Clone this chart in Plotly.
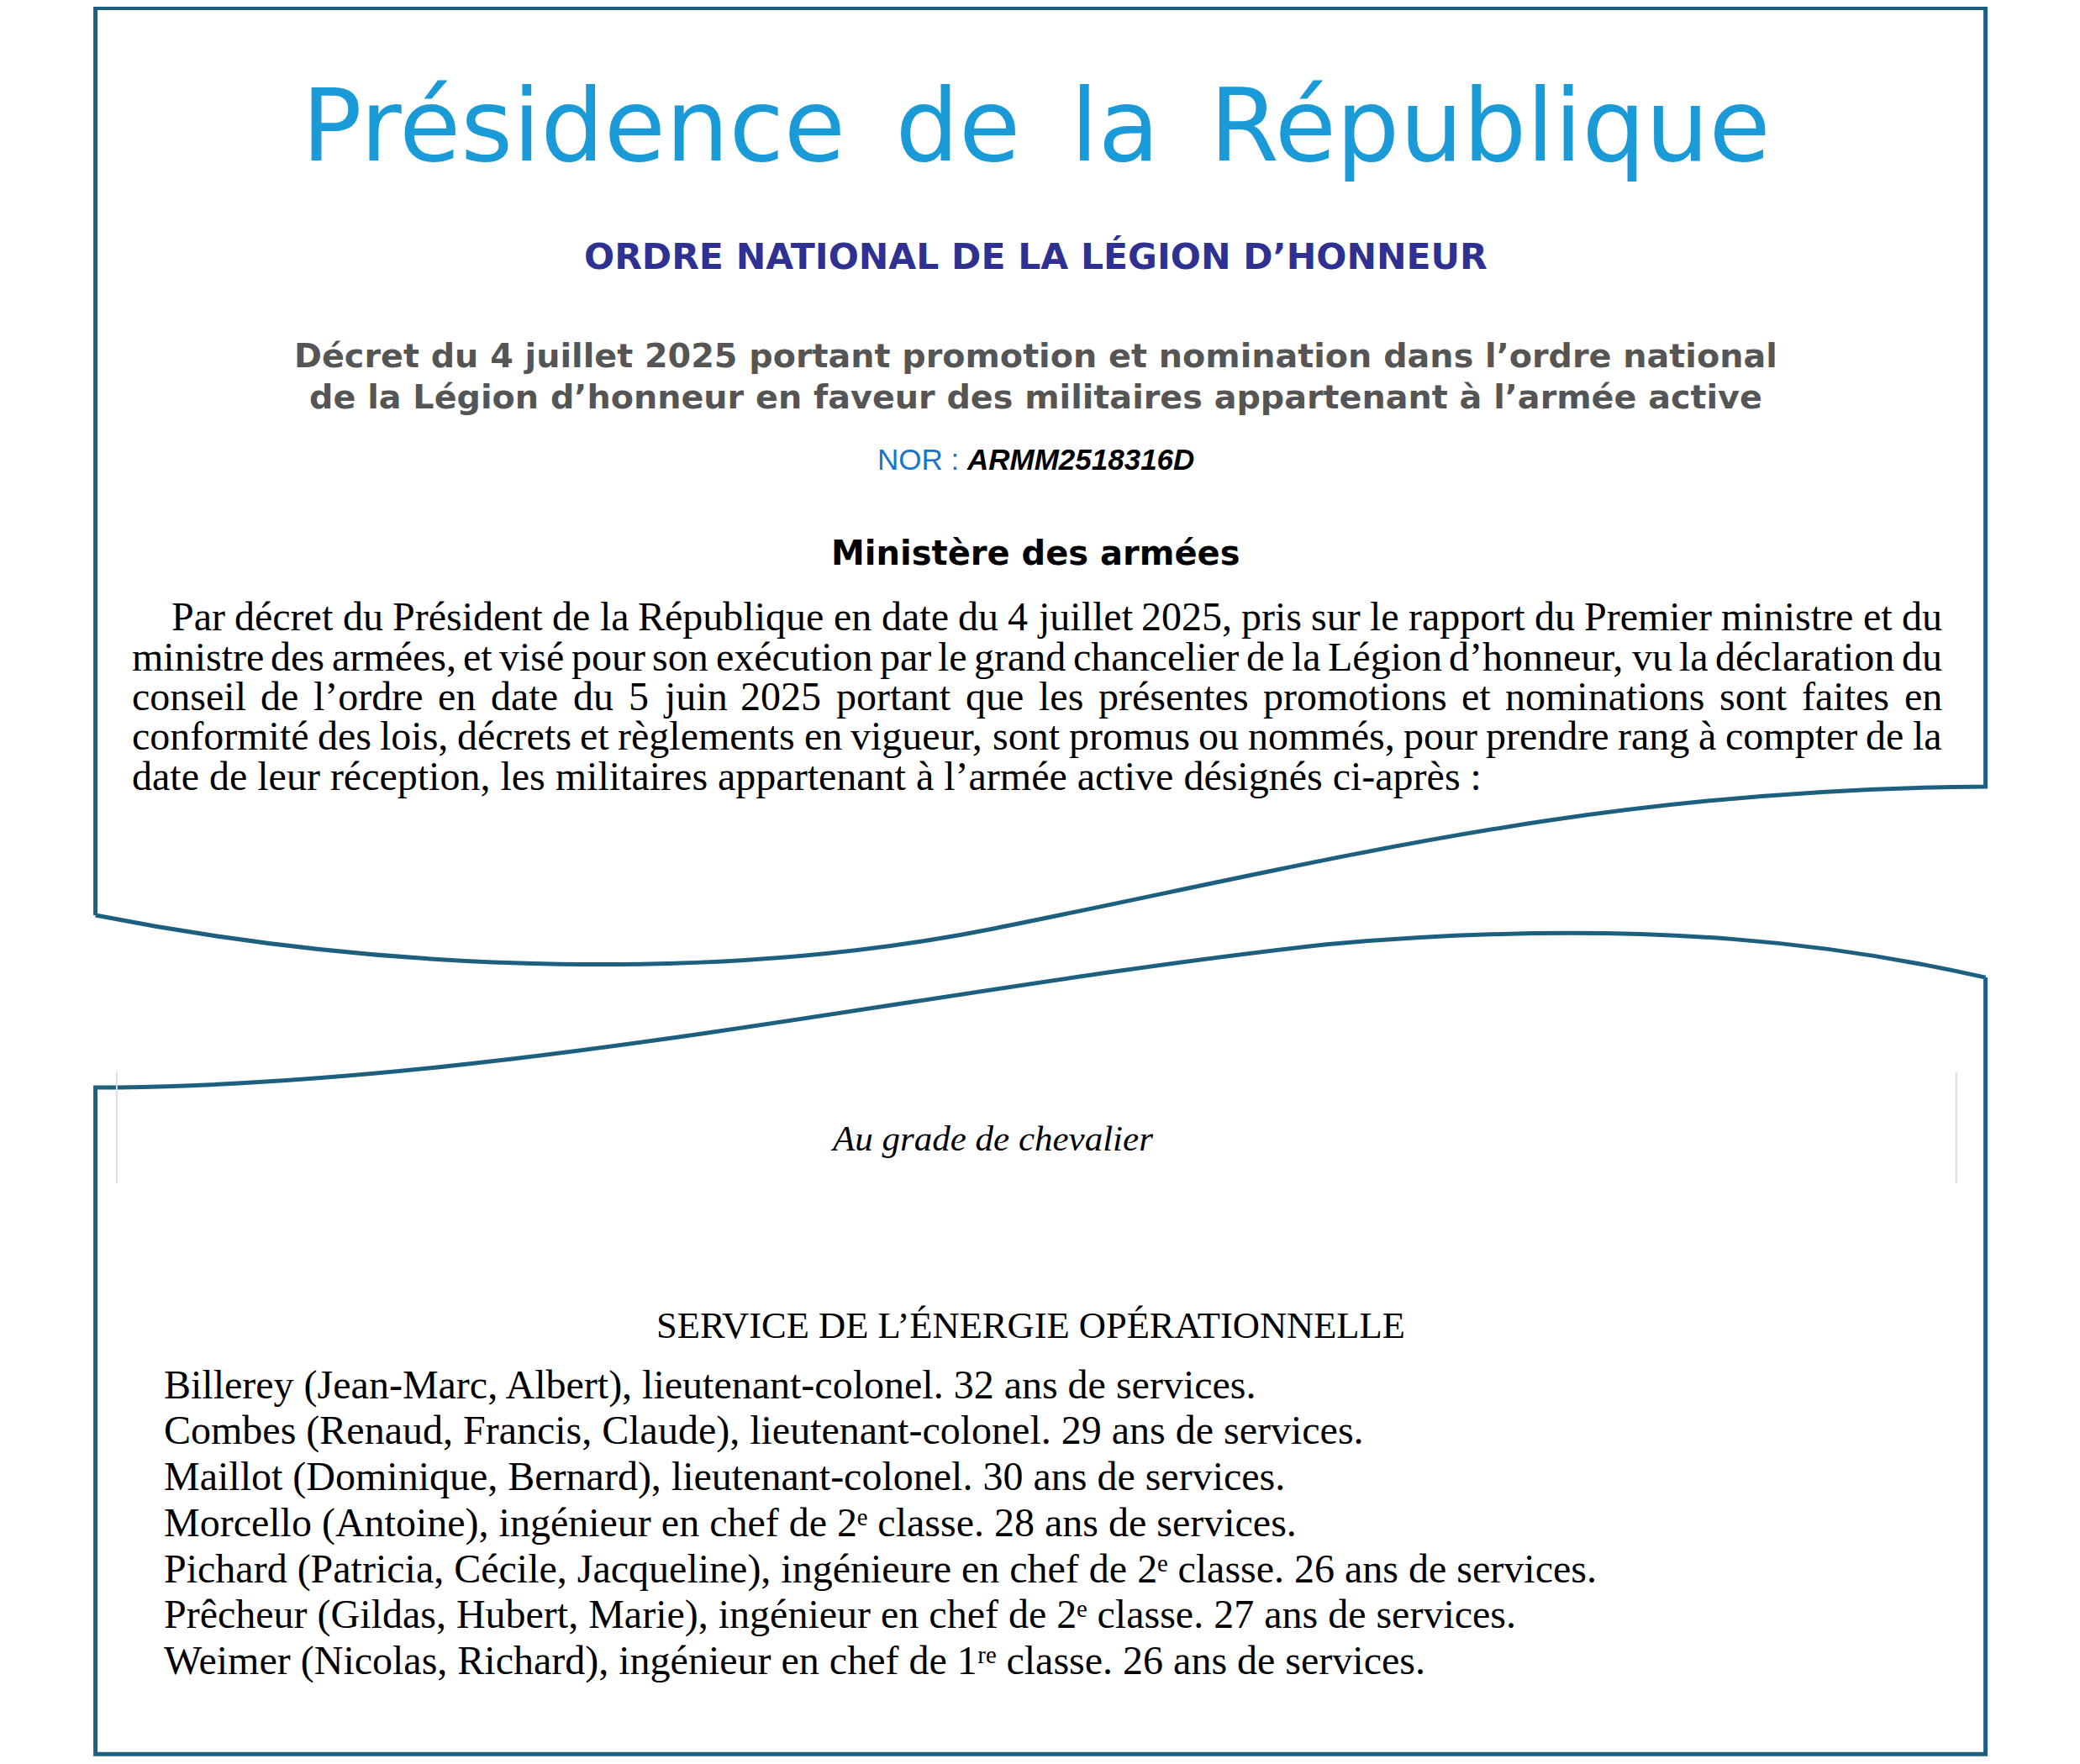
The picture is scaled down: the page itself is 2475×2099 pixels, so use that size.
import plotly.graph_objects as go

W, H = 2475, 2099
S = 2099 / 1330
OFF = 8  # page body margin

title = "Présidence de la République"
subtitle = "ORDRE NATIONAL DE LA LÉGION D’HONNEUR"
decret_lines = ["Décret du 4 juillet 2025 portant promotion et nomination dans l’ordre national",
                "de la Légion d’honneur en faveur des militaires appartenant à l’armée active"]
nor_label = "NOR :"
nor_code = "ARMM2518316D"
ministry = "Ministère des armées"
para_lines = [
    "Par décret du Président de la République en date du 4 juillet 2025, pris sur le rapport du Premier ministre et du",
    "ministre des armées, et visé pour son exécution par le grand chancelier de la Légion d’honneur, vu la déclaration du",
    "conseil de l’ordre en date du 5 juin 2025 portant que les présentes promotions et nominations sont faites en",
    "conformité des lois, décrets et règlements en vigueur, sont promus ou nommés, pour prendre rang à compter de la",
    "date de leur réception, les militaires appartenant à l’armée active désignés ci-après :",
]
grade = "Au grade de chevalier"
service = "SERVICE DE L’ÉNERGIE OPÉRATIONNELLE"
names = [
    "Billerey (Jean-Marc, Albert), lieutenant-colonel. 32 ans de services.",
    "Combes (Renaud, Francis, Claude), lieutenant-colonel. 29 ans de services.",
    "Maillot (Dominique, Bernard), lieutenant-colonel. 30 ans de services.",
    "Morcello (Antoine), ingénieur en chef de 2ᵉ classe. 28 ans de services.",
    "Pichard (Patricia, Cécile, Jacqueline), ingénieure en chef de 2ᵉ classe. 26 ans de services.",
    "Prêcheur (Gildas, Hubert, Marie), ingénieur en chef de 2ᵉ classe. 27 ans de services.",
    "Weimer (Nicolas, Richard), ingénieur en chef de 1ʳᵉ classe. 26 ans de services.",
]

# approximate Times widths (per 1000 em) for justification
TW = dict(zip("abcdefghijklmnopqrstuvwxyz",
              [444,500,444,500,444,333,500,500,278,278,500,278,778,500,500,500,500,333,389,278,500,500,722,500,500,444]))
TW.update(zip("ABCDEFGHIJKLMNOPQRSTUVWXYZ",
              [722,667,667,722,611,556,722,722,333,389,722,611,889,722,722,556,722,667,556,611,722,722,944,722,722,611]))
TW.update({c: 500 for c in "0123456789"})
TW.update({",": 250, ".": 250, ":": 278, "’": 333, "-": 333, "(": 333, ")": 333, " ": 250})
ACC = {"é": "e", "è": "e", "ê": "e", "à": "a", "â": "a", "ô": "o", "ç": "c", "É": "E"}
def wwidth(w, size):
    return sum(TW.get(ACC.get(c, c), 500) for c in w) * size / 1000

def p(x, y):
    return f"{x*S:.1f},{y*S:.1f}"

top_path = (f"M {p(72,690)} L {p(72,6)} L {p(1497,6)} L {p(1497,593)} "
            f"C {p(1200,595)} {p(1000,650)} {p(750,700)} "
            f"C {p(550,740)} {p(300,735)} {p(72,690)}")
bot_path = (f"M {p(1497,737)} L {p(1497,1322.5)} L {p(72,1322.5)} L {p(72,820)} L {p(90,820)} "
            f"C {p(400,815)} {p(700,745)} {p(1000,712)} "
            f"C {p(1250,690)} {p(1400,715)} {p(1497,737)}")

line_col = "#1d5f7e"
fig = go.Figure()
fig.add_trace(go.Scatter(x=[W/2], y=[H/2], mode="markers", marker=dict(opacity=0), hoverinfo="skip"))
shapes = [
    dict(type="path", path=top_path, line=dict(color=line_col, width=5), xref="x", yref="y"),
    dict(type="path", path=bot_path, line=dict(color=line_col, width=5), xref="x", yref="y"),
    dict(type="line", x0=88*S, x1=88*S, y0=808*S, y1=892*S, line=dict(color="#dddddd", width=2), xref="x", yref="y"),
    dict(type="line", x0=1475*S, x1=1475*S, y0=808*S, y1=892*S, line=dict(color="#dddddd", width=2), xref="x", yref="y"),
]
ann = []
def T(text, x, y, size, color="black", family="Liberation Sans", xanchor="center", sx=S):
    ann.append(dict(text=text, x=x*sx, y=y*S, xref="x", yref="y", showarrow=False,
                    font=dict(size=size, color=color, family=family), xanchor=xanchor, yanchor="middle"))

T(title.replace(" ", "\u2002"), 781, 95, 119, "#1b9ad8", "DejaVu Sans")
T(f"<b>{subtitle}</b>", 781, 193, 42.5, "#2e3192", "DejaVu Sans")
for i, l in enumerate(decret_lines):
    T(f"<b>{l}</b>", 781, 268 + 31*i, 39.7, "#555555", "DejaVu Sans")
T(f"<span style='color:#1a73c8'>{nor_label}</span> <i><b>{nor_code}</b></i>", 781, 346, 35, "black", "Liberation Sans")
T(f"<b>{ministry}</b>", 781, 417, 40, "black", "DejaVu Sans")

PS = 48
right = 1463 * S
for i, l in enumerate(para_lines):
    x0 = (128 if i == 0 else 98) * S
    y = 465 + 30*i
    if i < len(para_lines) - 1:
        words = l.split(" ")
        widths = [wwidth(w, PS) for w in words]
        gap = (right - x0 - sum(widths)) / (len(words) - 1)
        x = x0
        for w, wd in zip(words, widths):
            T(w, x, y, PS, "black", "Liberation Serif", "left", sx=1)
            x += wd + gap
    else:
        T(l, x0, y, PS, "black", "Liberation Serif", "left", sx=1)
T(f"<i>{grade}</i>", 748, 858, 43, "black", "Liberation Serif")
T(service, 777, 999, 44.5, "black", "Liberation Serif")
for i, l in enumerate(names):
    T(l, 122, 1044 + 34.7*i, 48, "black", "Liberation Serif", "left")

fig.update_layout(width=W - 2*OFF, height=H - 2*OFF, margin=dict(l=0, r=0, t=0, b=0),
                  paper_bgcolor="white", plot_bgcolor="white", showlegend=False,
                  shapes=shapes, annotations=ann,
                  xaxis=dict(range=[OFF, W - OFF], visible=False, fixedrange=True),
                  yaxis=dict(range=[H - OFF, OFF], visible=False, fixedrange=True))
fig.write_html("out.html")
